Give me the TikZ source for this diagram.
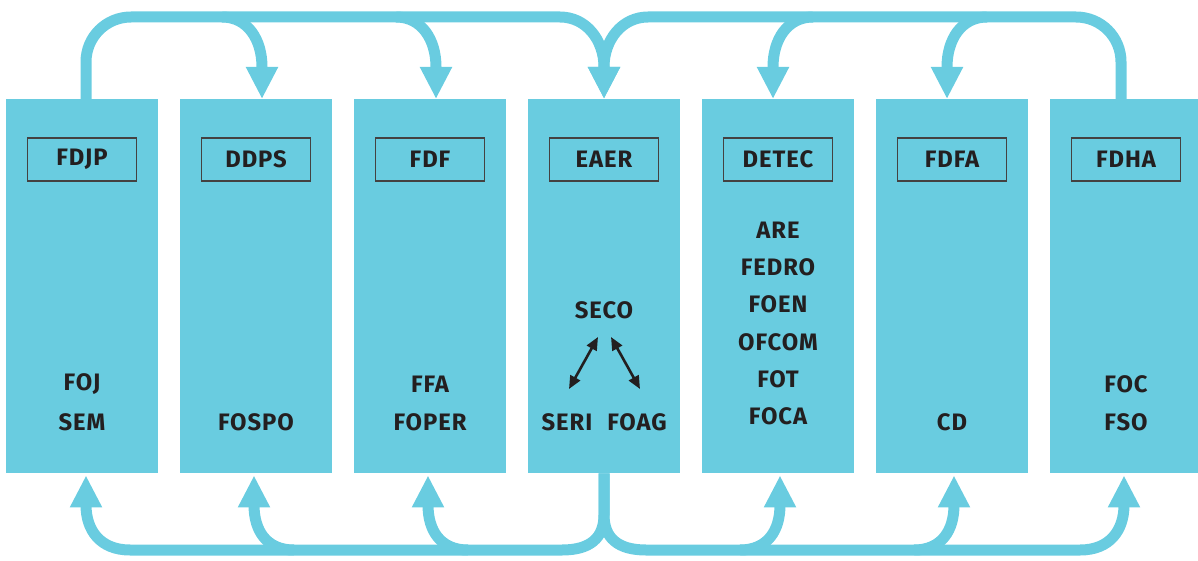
\documentclass[tikz,border=0pt]{standalone}
\usepackage{fontspec}
\setmainfont{Fira Sans}[LetterSpace=4]
\usetikzlibrary{arrows.meta,calc}
\definecolor{cy}{HTML}{69CCE0}
\definecolor{ink}{HTML}{231F20}
\newcommand\labfont{\fontsize{23.8}{24}\selectfont\bfseries}
\begin{document}
\begin{tikzpicture}[x=1pt,y=-1pt,
  col/.style={fill=cy,draw=none,minimum width=152pt,minimum height=374pt,inner sep=0pt,anchor=north},
  hdr/.style={draw=ink!85,line width=1.1pt,minimum width=109pt,minimum height=43pt,inner sep=0pt,font=\labfont,text=ink},
  lab/.style={font=\labfont,text=ink,inner sep=0pt},
  conn/.style={draw=cy,line width=11pt,-{Triangle[width=30pt,length=32pt]}},
  dbl/.style={draw=ink,line width=2.6pt,{Triangle[width=11pt,length=13pt]}-{Triangle[width=11pt,length=13pt]}},
  ]
\useasboundingbox (0,0) rectangle (1198,561);
% columns
\foreach \i/\x in {1/82,2/256,3/430,4/604,5/778,6/952,7/1126}{
  \node[col] (c\i) at (\x,99) {};
}
% headers
\node[hdr] (h1) at (82,159.5) {FDJP};
\node[hdr] (h2) at (256,159.5) {DDPS};
\node[hdr] (h3) at (430,159.5) {FDF};
\node[hdr] (h4) at (604,159.5) {EAER};
\node[hdr] (h5) at (778,159.5) {DETEC};
\node[hdr] (h6) at (952,159.5) {FDFA};
\node[hdr] (h7) at (1126,159.5) {FDHA};
% labels
\node[lab] (foj) at (82,384) {FOJ};
\node[lab] (sem) at (82,422) {SEM};
\node[lab] (fospo) at (256,422) {FOSPO};
\node[lab] (ffa) at (430,384) {FFA};
\node[lab] (foper) at (430,422) {FOPER};
\node[lab] (seco) at (604,310) {SECO};
\node[lab] (seri) at (567,422) {SERI};
\node[lab] (foag) at (637,422) {FOAG};
\node[lab] (are) at (778,230) {ARE};
\node[lab] (fedro) at (778,267) {FEDRO};
\node[lab] (foen) at (778,304) {FOEN};
\node[lab] (ofcom) at (778,342) {OFCOM};
\node[lab] (fot) at (778,379) {FOT};
\node[lab] (foca) at (778,416) {FOCA};
\node[lab] (cd) at (952,422) {CD};
\node[lab] (foc) at (1126,384) {FOC};
\node[lab] (fso) at (1126,422) {FSO};
% inner arrows
\coordinate (a1) at (598,337);
\coordinate (a2) at (569,389);
\coordinate (a3) at (611,337);
\coordinate (a4) at (640,389);
\draw[dbl] (a1) -- (a2);
\draw[dbl] (a3) -- (a4);
% top connectors
\draw[conn] ($(c1.north)+(4,0)$) -- (86,62) .. controls (86,37) and (106,17) .. (131,17) -- (560,17) .. controls (586,17) and (604,40) .. (604,67) -- (c4.north);
\draw[conn] (222,17) .. controls (248,17) and (262,40) .. (262,67) -- ($(c2.north)+(6,0)$);
\draw[conn] (396,17) .. controls (422,17) and (436,40) .. (436,67) -- ($(c3.north)+(6,0)$);
\draw[conn] ($(c7.north)+(-5,0)$) -- (1121,62) .. controls (1121,37) and (1101,17) .. (1076,17) -- (648,17) .. controls (622,17) and (604,40) .. (604,67) -- (c4.north);
\draw[conn] (813,17) .. controls (787,17) and (773,40) .. (773,67) -- ($(c5.north)+(-5,0)$);
\draw[conn] (987,17) .. controls (961,17) and (947,40) .. (947,67) -- ($(c6.north)+(-5,0)$);
% bottom connectors
\draw[conn] (c4.south) -- (604,515) .. controls (604,538) and (590,550) .. (562,550) -- (130,550) .. controls (100,550) and (86,530) .. (86,505) -- ($(c1.south)+(4,2)$);
\draw[conn] (294,550) .. controls (266,550) and (254,530) .. (254,505) -- ($(c2.south)+(-2,2)$);
\draw[conn] (468,550) .. controls (440,550) and (428,530) .. (428,505) -- ($(c3.south)+(-2,2)$);
\draw[conn] (c4.south) -- (604,515) .. controls (604,538) and (618,550) .. (646,550) -- (1080,550) .. controls (1110,550) and (1124,530) .. (1124,505) -- ($(c7.south)+(-2,2)$);
\draw[conn] (740,550) .. controls (768,550) and (780,530) .. (780,505) -- ($(c5.south)+(2,2)$);
\draw[conn] (914,550) .. controls (942,550) and (954,530) .. (954,505) -- ($(c6.south)+(2,2)$);
\end{tikzpicture}
\end{document}
